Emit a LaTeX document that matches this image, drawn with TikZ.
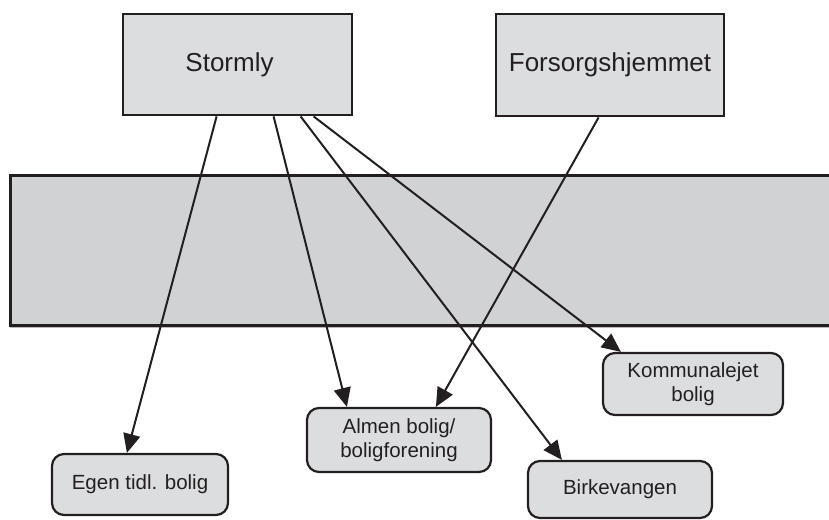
\documentclass[tikz,border=0pt]{standalone}
\usepackage{fontspec}
\setmainfont{Liberation Sans}
\usetikzlibrary{arrows.meta,calc}
\definecolor{boxfill}{RGB}{220,221,223}
\definecolor{bandfill}{RGB}{209,210,212}
\definecolor{ink}{RGB}{35,31,32}
\tikzset{
  bigbox/.style={draw=ink, line width=2.8pt, fill=boxfill, inner sep=0pt,
    font=\fontsize{26}{30}\selectfont, text=ink},
  smallbox/.style={draw=ink, line width=2.2pt, fill=boxfill, rounded corners=12pt,
    inner sep=0pt, align=center, font=\fontsize{20.5}{24}\selectfont, text=ink},
  conn/.style={draw=ink, line width=2pt, -{Triangle[length=19pt,width=17pt]}},
}
\begin{document}
\begin{tikzpicture}[x=1pt,y=-1pt]
\useasboundingbox (0,0) rectangle (829,519);
% band
\fill[bandfill] (10,175) rectangle (829,325);
\draw[gray!55, line width=1.2pt] (10,327.6) -- (829,327.6);
\draw[ink, line width=3pt] (835,175) -- (10,175) -- (10,325) -- (835,325);
% top boxes
\node[bigbox, minimum width=229pt, minimum height=101pt] (stormly) at (237.5,64.5) {\hspace*{-16pt}Stormly};
\node[bigbox, minimum width=228pt, minimum height=102pt] (forsorg) at (610,65) {Forsorgshjemmet};
% bottom boxes
\node[smallbox, minimum width=180pt, minimum height=62pt] (kommunal) at (693,384) {Kommunalejet\\bolig};
\node[smallbox, minimum width=184pt, minimum height=64pt] (almen) at (399,440) {Almen bolig/\\boligforening};
\node[smallbox, minimum width=176pt, minimum height=61pt] (egen) at (140,484.5) {Egen tidl. bolig};
\node[smallbox, minimum width=184pt, minimum height=57pt] (birke) at (620,489.5) {Birkevangen};
% connectors
\draw[conn] ($(stormly.south west)+(95,0)$) -- ($(egen.north west)+(76,0)$);
\draw[conn] ($(stormly.south west)+(152,0)$) -- ($(almen.north west)+(41,0)$);
\draw[conn] ($(stormly.south west)+(179,0)$) -- ($(birke.north west)+(35,0)$);
\draw[conn] ($(stormly.south west)+(192,0)$) -- ($(kommunal.north west)+(19,0)$);
\draw[conn] ($(forsorg.south west)+(104,0)$) -- ($(almen.north west)+(130,0)$);
\end{tikzpicture}
\end{document}
